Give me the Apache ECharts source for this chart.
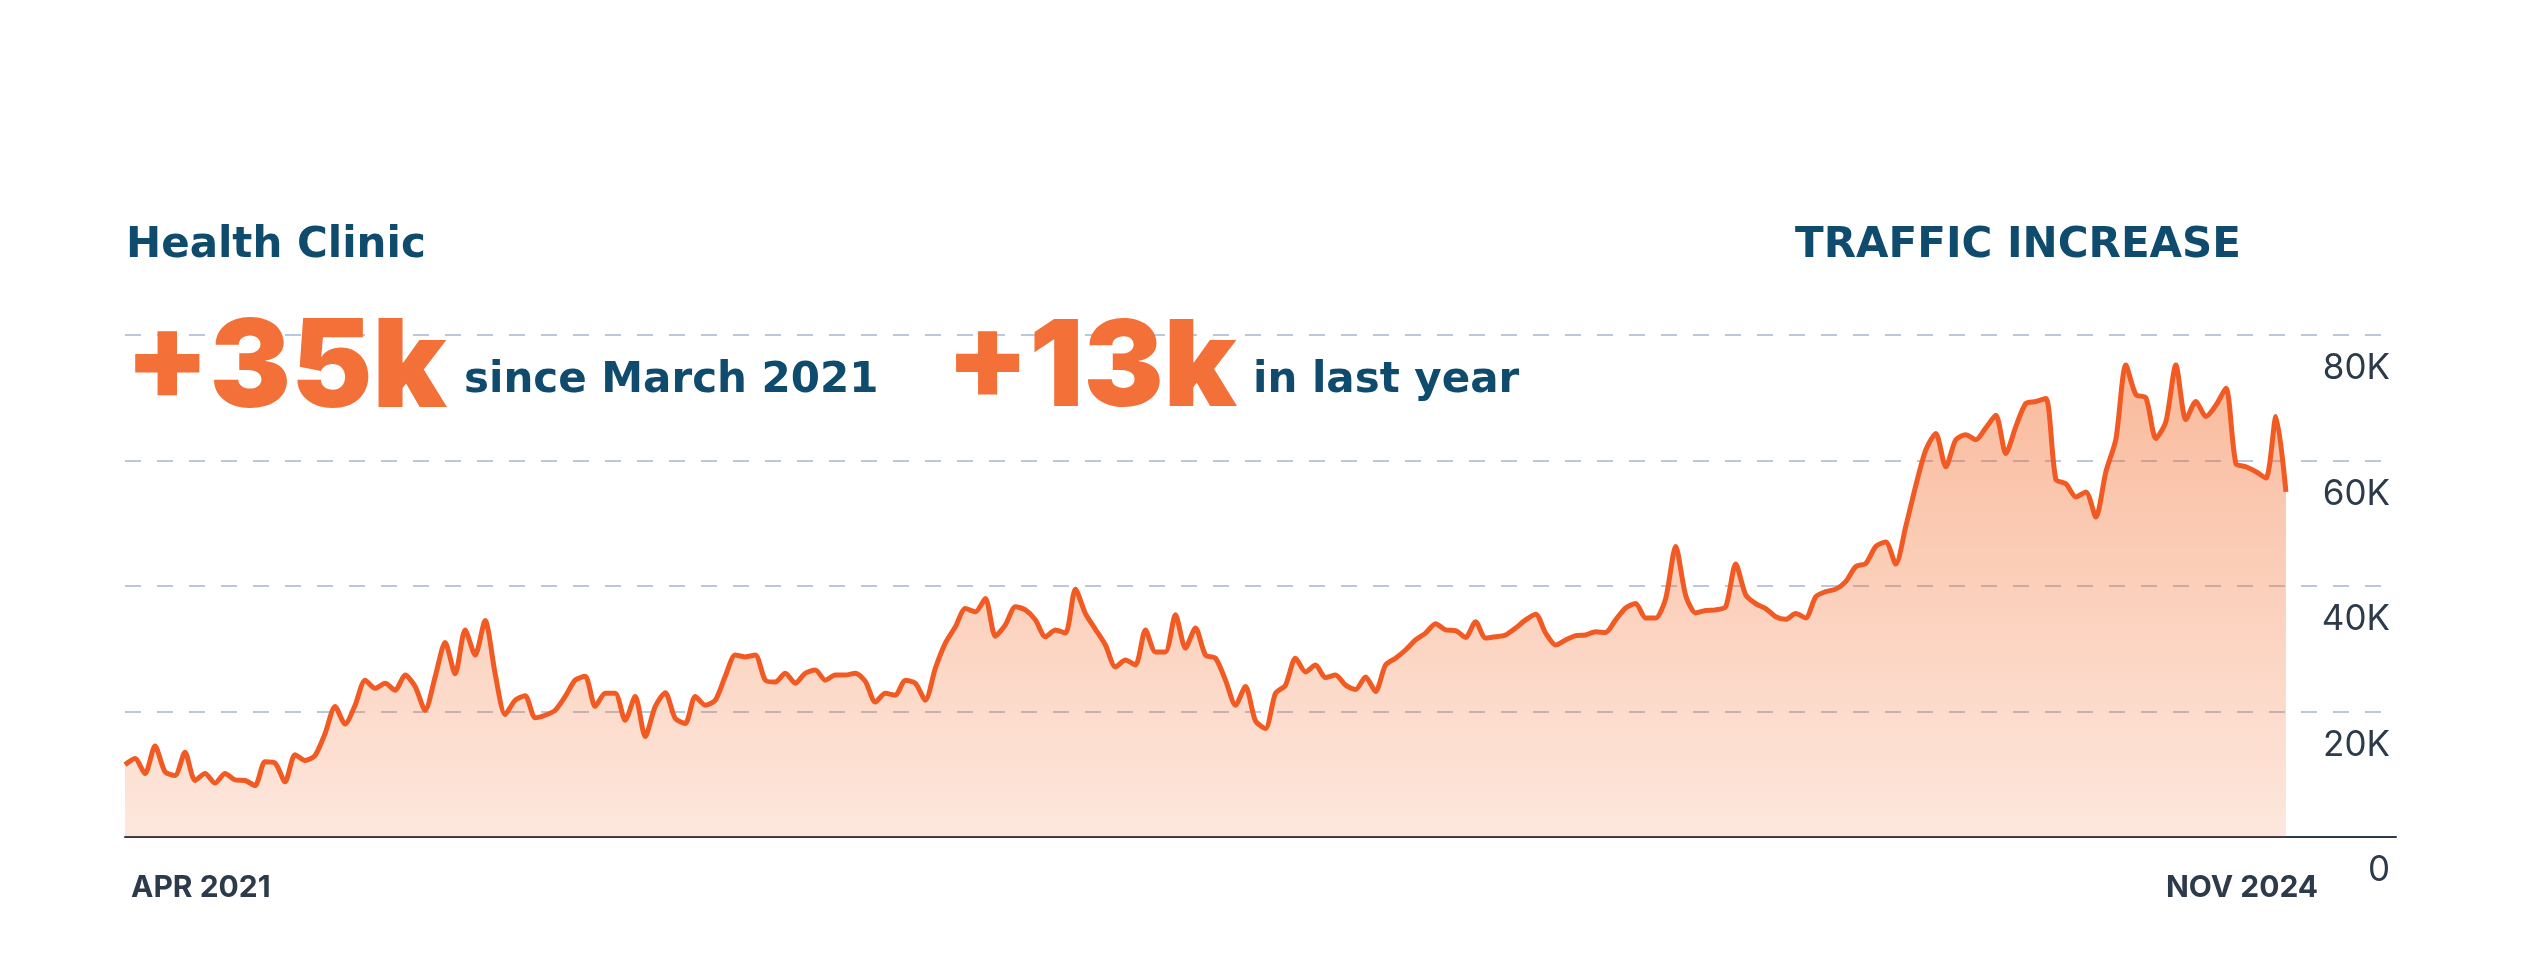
<!DOCTYPE html>
<html>
<head>
<meta charset="utf-8">
<script src="https://cdn.jsdelivr.net/npm/echarts@6/dist/echarts.min.js"></script>
<style>
html,body{margin:0;padding:0;background:#fff;}
#chart{width:2524px;height:974px;}
</style>
</head>
<body>
<div id="chart"></div>
<script>
// Traffic (thousands of visits), evenly spaced samples from APR 2021 to NOV 2024
const traffic = [
 11.5,12.5,10.1,14.5,10.4,9.8,13.5,9.0,10.1,8.6,
 10.1,9.1,9.0,8.2,12.0,11.8,8.8,13.1,12.2,13.0,
 16.5,20.8,18.0,21.0,25.0,23.7,24.5,23.4,25.8,24.0,
 20.2,25.5,31.0,26.0,33.0,29.0,34.5,26.0,19.5,21.8,
 22.5,19.0,19.4,20.2,22.4,25.0,25.6,20.8,22.9,22.9,
 18.6,22.4,16.0,20.8,23.0,18.9,18.1,22.4,21.0,21.8,
 25.6,29.0,28.7,29.0,25.0,24.7,26.1,24.5,26.1,26.6,
 25.0,25.8,25.8,26.1,24.8,21.5,22.9,22.6,25.0,24.5,
 21.8,26.9,30.9,33.5,36.4,35.9,38.0,32.0,33.8,36.7,
 36.2,34.6,31.9,33.0,32.5,39.5,35.6,33.1,30.6,27.1,
 28.2,27.4,33.0,29.5,29.5,35.4,30.1,33.3,29.0,28.5,
 25.0,21.0,24.0,18.5,17.3,22.9,24.2,28.5,26.3,27.4,
 25.4,25.8,24.2,23.5,25.5,23.2,27.4,28.5,29.8,31.4,
 32.5,34.0,33.0,32.9,31.8,34.3,31.7,31.9,32.2,33.3,
 34.6,35.5,32.5,30.6,31.4,32.1,32.2,32.7,32.6,34.6,
 36.5,37.2,34.9,34.9,38.0,46.3,38.5,35.7,36.1,36.2,
 36.7,43.5,38.6,37.2,36.4,35.1,34.7,35.6,34.9,38.3,
 39.1,39.5,40.7,43.1,43.6,46.3,47.0,43.5,49.5,56.0,
 61.7,64.3,59.0,63.3,64.1,63.3,65.2,67.2,61.1,65.4,
 69.1,69.4,69.9,57.0,56.3,54.2,55.0,51.0,58.2,63.4,
 75.2,70.5,70.0,63.5,66.2,75.2,66.5,69.4,67.0,68.8,
 71.5,59.5,59.0,58.2,57.2,67.0,55.0
];
const yTickValues = [0, 20, 40, 60, 80];
const yTickLabels = ['0', '20K', '40K', '60K', '80K'];
const xEndLabels = ['APR 2021', 'NOV 2024'];
const headline = ['Health Clinic', 'TRAFFIC INCREASE'];
const stats = ['+35k', 'since March 2021', '+13k', 'in last year'];

const FONT = 'Inter, "Noto Sans", sans-serif';
const HFONT = '"DejaVu Sans", Inter, sans-serif';
const BLUE = '#0e4b6c';
const ORANGE = '#f37038';
const INK = '#2d3a4a';

const chart = echarts.init(document.getElementById('chart'), null, {renderer: 'canvas'});
const seriesData = traffic.map((v, i) => [i, v]);

function txt(x, y, text, size, weight, color, family) {
  return {
    type: 'text', x: x, y: y, z: 10,
    style: { text: text, fill: color, font: weight + ' ' + size + 'px ' + (family || FONT), verticalAlign: 'middle', align: 'left' }
  };
}

chart.setOption({
  animation: false,
  backgroundColor: '#ffffff',
  grid: { left: 125, right: 128, top: 335, bottom: 137 },
  xAxis: {
    type: 'value', min: 0, max: 227,
    axisLine: { show: true, lineStyle: { color: INK, width: 2 } },
    axisTick: { show: false }, axisLabel: { show: false }, splitLine: { show: false }
  },
  yAxis: {
    type: 'value', position: 'right', min: 0, max: 80, interval: 20,
    axisLine: { show: false }, axisTick: { show: false },
    splitLine: { show: true, lineStyle: { color: '#b9c8de', width: 2, type: [16, 16] } },
    axisLabel: {
      inside: true, margin: 6, verticalAlign: 'top', padding: [16, 0, 0, 0],
      fontSize: 35, fontFamily: FONT, color: INK,
      formatter: function (v) { const i = yTickValues.indexOf(v); return i >= 0 ? yTickLabels[i] : ''; }
    }
  },
  series: [{
    type: 'line', data: seriesData, smooth: 0.25, showSymbol: false,
    lineStyle: { color: '#f15a22', width: 5 },
    areaStyle: {
      color: new echarts.graphic.LinearGradient(0, 0, 0, 1, [
        { offset: 0, color: 'rgba(242,101,34,0.64)' },
        { offset: 1, color: 'rgba(242,101,34,0.22)' }
      ])
    }
  }],
  graphic: [
    txt(126, 246, headline[0], 42, 700, BLUE, HFONT),
    txt(1795, 246, headline[1], 42, 700, BLUE, HFONT),
    txt(125, 370, stats[0], 122, 900, ORANGE),
    txt(464, 381, stats[1], 42, 700, BLUE, HFONT),
    txt(946, 370, stats[2], 120, 900, ORANGE),
    txt(1253, 381, stats[3], 42, 700, BLUE, HFONT),
    txt(131, 888, xEndLabels[0], 30, 700, INK),
    txt(2166, 888, xEndLabels[1], 30, 700, INK)
  ]
});
</script>
</body>
</html>
